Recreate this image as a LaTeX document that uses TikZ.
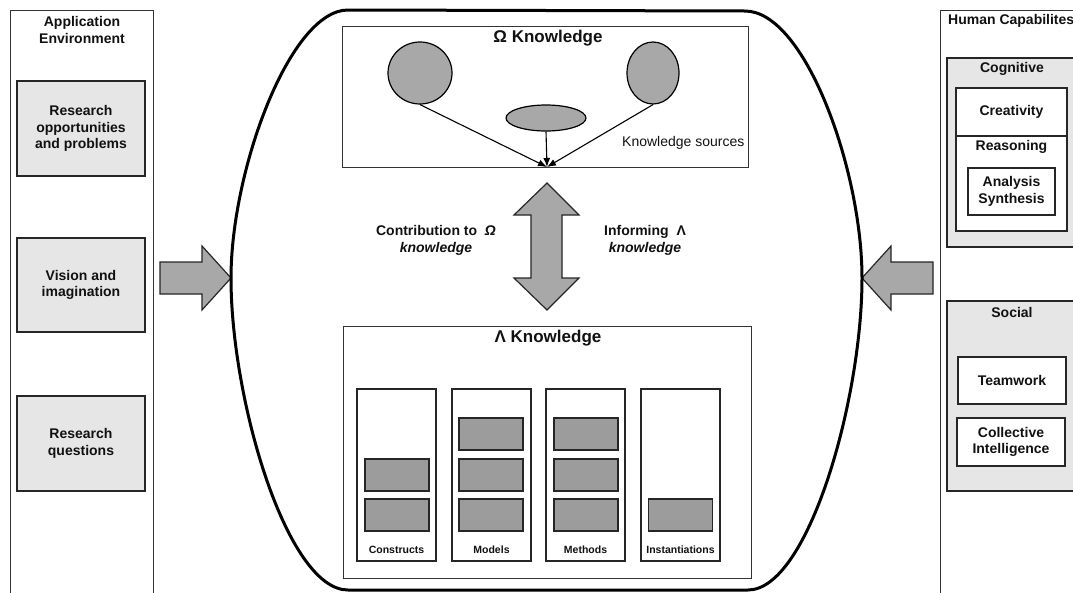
\documentclass[tikz,border=0pt]{standalone}
\usepackage{fontspec}
\setmainfont{Liberation Sans}
\usetikzlibrary{shapes.geometric,arrows.meta}
\definecolor{lightfill}{HTML}{E6E6E6}
\definecolor{midfill}{HTML}{A8A8A8}
\definecolor{darkfill}{HTML}{9C9C9C}
\definecolor{edge}{HTML}{333333}
\definecolor{ink}{HTML}{111111}
\begin{document}
\begin{tikzpicture}[x=1pt,y=-1pt,
  every node/.style={text=ink},
  txt/.style={font=\fontsize{14}{17}\selectfont\bfseries,align=center,inner sep=0pt},
  panel/.style={draw=edge,line width=1pt,fill=white,inner sep=0pt},
  graybox/.style={draw=black!85,line width=1.3pt,fill=lightfill,inner sep=0pt,
    font=\fontsize{14}{16.7}\selectfont\bfseries,align=center},
  whitebox/.style={draw=black!85,line width=1.3pt,fill=white,inner sep=0pt,
    font=\fontsize{14}{16.7}\selectfont\bfseries,align=center},
  kbox/.style={draw=edge,line width=1pt,fill=white,inner sep=0pt},
  column/.style={draw=black!85,line width=1.2pt,fill=white,inner sep=0pt,
    minimum width=79,minimum height=172},
  artefact/.style={draw=black!85,line width=1.3pt,fill=darkfill,inner sep=0pt,
    minimum width=64,minimum height=32},
  source/.style={ellipse,draw=black,line width=1.2pt,fill=midfill,inner sep=0pt},
  blockarrow/.style={draw=black!85,line width=1.2pt,fill=midfill,line join=miter},
  flow/.style={line width=1.1pt,-{Latex[length=9pt,width=7pt]}},
  collabel/.style={font=\fontsize{10.5}{12}\selectfont\bfseries,inner sep=0pt},
  sidelabel/.style={font=\fontsize{14}{17}\selectfont\bfseries,align=center,inner sep=0pt}]
\clip (0,0) rectangle (1073,592);
\fill[white] (0,0) rectangle (1073,592);

% ---------- application environment (left) ----------
\node[panel,minimum width=143,minimum height=620] (appenv) at (81.5,320) {};
\node[txt] (appenvtitle) at (82,29.5) {Application\\Environment};
\node[graybox,minimum width=128,minimum height=95] (rop) at (81,128.5)
  {Research\\opportunities\\and problems};
\node[graybox,minimum width=128,minimum height=94] (vis) at (81,285)
  {Vision and\\imagination};
\node[graybox,minimum width=128,minimum height=95] (rq) at (81,443.5)
  {Research\\questions};

% ---------- human capabilities (right) ----------
\node[panel,minimum width=160,minimum height=620] (human) at (1020,320) {};
\node[txt,anchor=west] (humantitle) at (948,21) {Human Capabilites};

\node[graybox,minimum width=140,minimum height=189] (cog) at (1017,152.5) {};
\node[txt] (cogtitle) at (1012,69) {Cognitive};
\node[whitebox,minimum width=111,minimum height=143] (cogin) at (1011.5,159.5) {};
\draw[draw=black!85,line width=1.2pt] (cogin.west |- 0,136) -- (cogin.east |- 0,136);
\node[txt] (creat) at (1011.5,112) {Creativity};
\node[txt] (reason) at (1011.5,147) {Reasoning};
\node[whitebox,minimum width=87,minimum height=47] (ansyn) at (1011.5,191.5)
  {Analysis\\Synthesis};

\node[graybox,minimum width=140,minimum height=190] (soc) at (1017,396) {};
\node[txt] (soctitle) at (1012,312) {Social};
\node[whitebox,minimum width=108,minimum height=47] (team) at (1012,380.5) {Teamwork};
\node[whitebox,minimum width=108,minimum height=48] (coll) at (1011,442)
  {Collective\\Intelligence};

% ---------- block arrows into the centre ----------
\draw[blockarrow] (160,262) -- (202,262) -- (202,246) -- (231,278) -- (202,310)
  -- (202,294) -- (160,294) -- cycle;
\draw[blockarrow] (933,262) -- (891,262) -- (891,246) -- (862,278) -- (891,310)
  -- (891,294) -- (933,294) -- cycle;

% ---------- central rounded container ----------
\draw[line width=3pt,black] (348,10) .. controls (290,10) and (231,170) .. (231,278)
  .. controls (231,400) and (287,590) .. (348,590) -- (748,590)
  .. controls (808,590) and (862,400) .. (862,278)
  .. controls (862,170) and (805,11) .. (745,11) -- cycle;

% ---------- Omega knowledge ----------
\node[kbox,minimum width=406,minimum height=141] (omega) at (545,96.5) {};
\node[font=\fontsize{17}{20}\selectfont\bfseries,inner sep=0pt] (omegatitle) at (548,38) {Ω Knowledge};
\node[source,minimum width=64,minimum height=62] (srcA) at (420,73) {};
\node[source,minimum width=52,minimum height=62] (srcB) at (653,73) {};
\node[source,minimum width=80,minimum height=26] (srcC) at (546,118) {};
\coordinate (meet) at (547,167);
\draw[flow] (srcA.south) -- (meet);
\draw[flow] (srcB.south) -- (meet);
\draw[flow] (srcC.south) -- (meet);
\node[font=\fontsize{14}{17}\selectfont,inner sep=0pt,anchor=west] (ksrc) at (622,143) {Knowledge sources};

% ---------- exchange between the two knowledge bases ----------
\draw[blockarrow] (547,183) -- (579,215) -- (562,215) -- (562,278) -- (579,278)
  -- (547,310) -- (514,278) -- (531,278) -- (531,215) -- (514,215) -- cycle;
\node[sidelabel] (contrib) at (436,240.5) {Contribution to~ \textit{Ω}\\\textit{knowledge}};
\node[sidelabel] (inform) at (645,240.5) {Informing~ Λ\\\textit{knowledge}};

% ---------- Lambda knowledge ----------
\node[kbox,minimum width=408,minimum height=252] (lambda) at (547,452) {};
\node[font=\fontsize{17}{20}\selectfont\bfseries,inner sep=0pt] (lambdatitle) at (548,338.5) {Λ Knowledge};

\node[column] (constructs) at (396.5,475) {};
\node[column] (models) at (491.5,475) {};
\node[column] (methods) at (585.5,475) {};
\node[column] (inst) at (680.5,475) {};

\node[collabel] at (396.5,550) {Constructs};
\node[collabel] at (491.5,550) {Models};
\node[collabel] at (585.5,550) {Methods};
\node[collabel] at (680.5,550) {Instantiations};

% artefacts stacked inside the columns
\node[artefact] (c2) at (397,475) {};
\node[artefact] (c3) at (397,515) {};
\node[artefact] (m1) at (491,434) {};
\node[artefact] (m2) at (491,475) {};
\node[artefact] (m3) at (491,515) {};
\node[artefact] (t1) at (586,434) {};
\node[artefact] (t2) at (586,475) {};
\node[artefact] (t3) at (586,515) {};
\node[artefact] (i3) at (680.5,515) {};
\end{tikzpicture}
\end{document}
